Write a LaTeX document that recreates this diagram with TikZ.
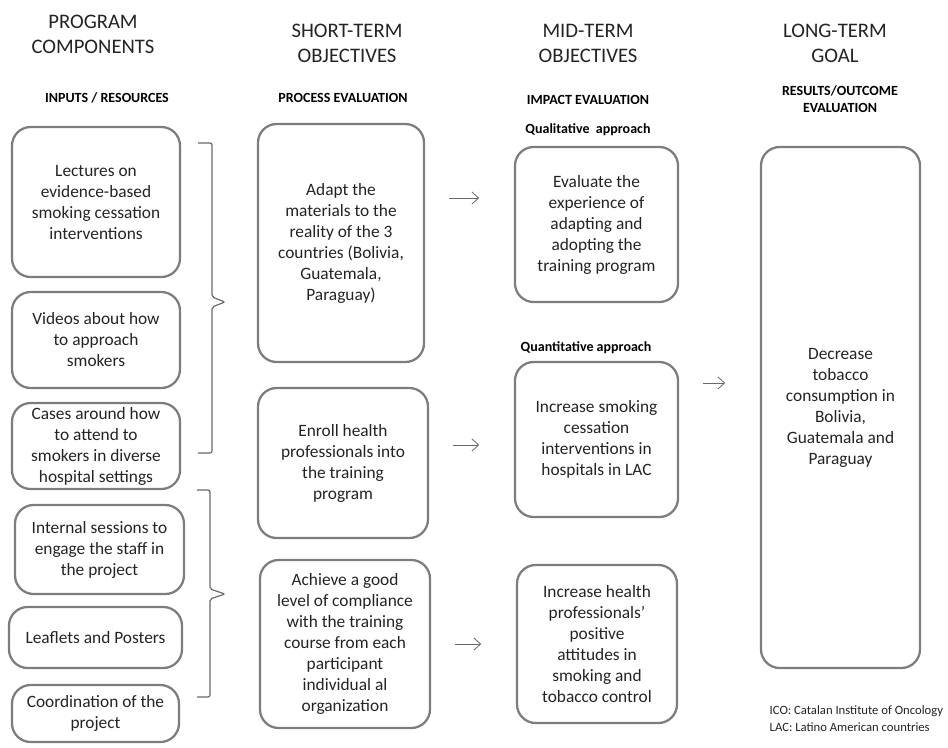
\documentclass[tikz,border=0pt]{standalone}
\usepackage{fontspec}
\setmainfont{Carlito}
\usetikzlibrary{arrows.meta}
\definecolor{boxgray}{RGB}{125,125,125}
\definecolor{txtgray}{RGB}{35,35,35}
\definecolor{arrgray}{RGB}{105,105,105}

\begin{document}
\begin{tikzpicture}[
        x=0.75pt, y=-0.75pt,
        box/.style={rectangle, draw=boxgray, line width=1.7pt, rounded corners=14pt, align=center, inner sep=1pt, text=txtgray, font=\fontsize{13}{15.75}\selectfont},
        colhead/.style={align=center, text=txtgray, font=\fontsize{15.5}{18.75}\selectfont},
        subhead/.style={align=center, text=black, font=\bfseries\fontsize{10.5}{12.75}\selectfont},
        approach/.style={text=black, font=\bfseries\fontsize{10.5}{12}\selectfont},
        note/.style={anchor=west, align=left, text=txtgray, font=\fontsize{9.5}{12.75}\selectfont},
        arrow/.style={-{Straight Barb[length=5pt,width=9pt]}, arrgray, line width=0.6pt, shorten <=18pt, shorten >=26pt},
        brace/.style={draw=arrgray, line width=0.9pt, rounded corners=1.5pt}
    ]
    \useasboundingbox (0,0) rectangle (948,747);
%
    % Column headings
    \node[colhead] (hprog) at (93,34.5) {PROGRAM\\COMPONENTS};
    \node[colhead] (hshort) at (347,43.5) {SHORT-TERM\\OBJECTIVES};
    \node[colhead] (hmid) at (588,43.5) {MID-TERM\\OBJECTIVES};
    \node[colhead] (hlong) at (835,43.5) {LONG-TERM\\GOAL};
    \node[subhead] (sinputs) at (107,98) {INPUTS / RESOURCES};
    \node[subhead] (sprocess) at (343,98) {PROCESS EVALUATION};
    \node[subhead] (simpact) at (588,100) {IMPACT EVALUATION};
    \node[subhead] (sresults) at (840,99.5) {RESULTS/OUTCOME\\EVALUATION};
%
    % Program components
    \node[box, minimum width=126pt, minimum height=112.5pt] (lectures) at (96,202) {Lectures on\\evidence-based\\smoking cessation\\interventions};
    \node[box, minimum width=126pt, minimum height=72pt] (videos) at (96,340) {Videos about how\\to approach\\smokers};
    \node[box, minimum width=126pt, minimum height=64.5pt] (cases) at (96,446) {Cases around how\\to attend to\\smokers in diverse\\hospital settings};
    \node[box, minimum width=126.75pt, minimum height=66.75pt] (sessions) at (99.5,549.5) {Internal sessions to\\engage the staff in\\the project};
    \node[box, minimum width=129.75pt, minimum height=45.75pt] (leaflets) at (95.5,637.5) {Leaflets and Posters};
    \node[box, minimum width=125.25pt, minimum height=42.75pt] (coordination) at (95.5,713.5) {Coordination of the\\project};
%
    % Short-term objectives
    \node[box, minimum width=124.5pt, minimum height=178.5pt] (adapt) at (341,243) {Adapt the\\materials to the\\reality of the 3\\countries (Bolivia,\\Guatemala,\\Paraguay)};
    \node[box, minimum width=127.5pt, minimum height=112.5pt] (enroll) at (343,463) {Enroll health\\professionals into\\the training\\program};
    \node[box, minimum width=127.5pt, minimum height=126pt] (achieve) at (345,644) {Achieve a good\\level of compliance\\with the training\\course from each\\participant\\individual al\\organization};
%
    % Mid-term objectives
    \node[approach] (qual) at (588,130) {Qualitative\ \ approach};
    \node[approach] (quant) at (586,348) {Quantitative approach};
    \node[box, minimum width=122.25pt, minimum height=116.25pt] (evaluate) at (596.5,224.5) {Evaluate the\\experience of\\adapting and\\adopting the\\training program};
    \node[box, minimum width=122.25pt, minimum height=116.25pt] (smoking) at (596.5,439.5) {Increase smoking\\cessation\\interventions in\\hospitals in LAC};
    \node[box, minimum width=120pt, minimum height=118.5pt] (attitudes) at (597,644) {Increase health\\professionals'\\positive\\attitudes in\\smoking and\\tobacco control};
%
    % Long-term goal
    \node[box, minimum width=119.25pt, minimum height=390.75pt] (goal) at (840.5,407.5) {Decrease\\tobacco\\consumption in\\Bolivia,\\Guatemala and\\Paraguay};
    \node[note] (abbrev) at (765,718.5) {ICO: Catalan Institute of Oncology\\LAC: Latino American countries};
%
    % Braces
    \draw[brace] (198,143) -- (212,143) -- (212,297) -- (225,302) -- (212,307) -- (212,453) -- (198,453);
    \draw[brace] (197,490) -- (210,490) -- (210,589) -- (225,594) -- (210,599) -- (210,697) -- (197,697);
%
    % Arrows
    \coordinate (a1) at ([yshift=33.75pt]adapt.east);
    \coordinate (a2) at ([yshift=13.5pt]enroll.east);
    \coordinate (a4) at ([yshift=42.4pt]smoking.east);
    \draw[arrow] (a1) -- (evaluate.west |- a1);
    \draw[arrow] (a2) -- (smoking.west |- a2);
    \draw[arrow] (achieve.east) -- (attitudes.west);
    \draw[arrow] (a4) -- (goal.west |- a4);
%
\end{tikzpicture}
\end{document}
